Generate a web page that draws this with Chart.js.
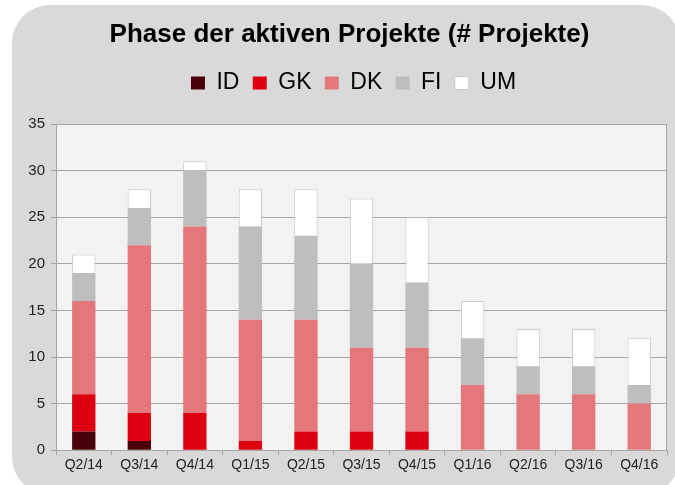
<!DOCTYPE html>
<html>
<head>
<meta charset="utf-8">
<script src="https://cdn.jsdelivr.net/npm/chart.js@4/dist/chart.umd.min.js"></script>
<style>
  html, body { margin: 0; padding: 0; background: #fff; }
  #wrap { position: relative; width: 675px; height: 485px; overflow: hidden; }
  #panel { position: absolute; left: 12px; top: 5px; width: 668px; height: 490px;
           background: #d9d9d9; border-radius: 38px; }
  #myChart { position: absolute; left: 0; top: 0; }
</style>
</head>
<body>
<div id="wrap">
  <div id="panel"></div>
  <canvas id="myChart" width="675" height="485"></canvas>
</div>
<script>
  var quarters = ["Q2/14", "Q3/14", "Q4/14", "Q1/15", "Q2/15", "Q3/15", "Q4/15", "Q1/16", "Q2/16", "Q3/16", "Q4/16"];
  var idVals = [2, 1, 0, 0, 0, 0, 0, 0, 0, 0, 0];
  var gkVals = [4, 3, 4, 1, 2, 2, 2, 0, 0, 0, 0];
  var dkVals = [10, 18, 20, 13, 12, 9, 9, 7, 6, 6, 5];
  var fiVals = [3, 4, 6, 10, 9, 9, 7, 5, 3, 3, 2];
  var umVals = [2, 2, 1, 4, 5, 7, 7, 4, 4, 4, 5];
  var yTicks = [0, 5, 10, 15, 20, 25, 30, 35];

  var font = "'Liberation Sans', Arial, sans-serif";

  // title/legend sit centred on the grey panel, not the canvas
  function shiftDraw(box, dx) {
    var d = box.draw;
    box.draw = function() {
      var c = this.ctx;
      c.save();
      c.translate(dx, 0);
      d.apply(this, arguments);
      c.restore();
    };
  }

  // plot background + right border, extra gap under legend
  var plotBg = {
    id: 'plotBg',
    afterInit: function(chart) {
      var lg = chart.legend;
      var f = lg.fit;
      lg.fit = function() { f.call(this); this.height += 19.5; };
      shiftDraw(lg, 20);
      shiftDraw(chart.titleBlock, 16);
    },
    beforeDraw: function(chart) {
      var a = chart.chartArea, c = chart.ctx;
      c.save();
      c.fillStyle = '#f2f2f2';
      c.fillRect(a.left, a.top, a.right - a.left, a.bottom - a.top);
      c.restore();
    },
    afterDatasetsDraw: function(chart) {
      var a = chart.chartArea, c = chart.ctx;
      c.save();
      c.strokeStyle = '#a6a6a6';
      c.lineWidth = 1;
      c.beginPath();
      c.moveTo(Math.round(a.right) - 0.5, a.top);
      c.lineTo(Math.round(a.right) - 0.5, a.bottom);
      c.stroke();
      c.restore();
    }
  };

  var ctx = document.getElementById("myChart").getContext('2d');
  var myChart = new Chart(ctx, {
    type: 'bar',
    data: {
      labels: quarters,
      datasets: [
        { label: 'ID', data: idVals, backgroundColor: "#4a0008", borderWidth: 0 },
        { label: 'GK', data: gkVals, backgroundColor: "#dd0011", borderWidth: 0 },
        { label: 'DK', data: dkVals, backgroundColor: "#e4777b", borderWidth: 0 },
        { label: 'FI', data: fiVals, backgroundColor: "#bebebe", borderWidth: 0 },
        { label: 'UM', data: umVals, backgroundColor: "#ffffff", borderColor: "#c9c9c9", borderWidth: 1 }
      ]
    },
    options: {
      responsive: false,
      animation: false,
      categoryPercentage: 1,
      barPercentage: 0.42,
      layout: { padding: { left: 0, right: 8, top: 0, bottom: 9 } },
      plugins: {
        title: {
          display: true,
          text: 'Phase der aktiven Projekte (# Projekte)',
          color: '#000',
          font: { family: font, size: 26, weight: 'bold', lineHeight: 1.2 },
          padding: { top: 19.5, bottom: 7.5 }
        },
        legend: {
          display: true,
          position: 'top',
          labels: {
            color: '#000',
            font: { family: font, size: 23 },
            boxWidth: 14,
            boxHeight: 13,
            padding: 13.3
          }
        },
        tooltip: { enabled: false }
      },
      scales: {
        x: {
          stacked: true,
          grid: { display: true, drawOnChartArea: false, drawTicks: true, tickLength: 5, color: '#a6a6a6', offset: true },
          border: { display: true, color: '#a6a6a6' },
          ticks: { color: '#222', font: { family: font, size: 14 }, padding: 2, maxRotation: 0, autoSkip: false }
        },
        y: {
          stacked: true,
          min: 0,
          max: 35,
          afterFit: function(scale) { scale.width = 56; },
          afterBuildTicks: function(scale) {
            scale.ticks = yTicks.map(function(v) { return { value: v }; });
          },
          grid: { color: '#a6a6a6', tickLength: 5, lineWidth: 1 },
          border: { display: true, color: '#a6a6a6' },
          ticks: { color: '#222', font: { family: font, size: 15 }, padding: 6 }
        }
      }
    },
    plugins: [plotBg]
  });
</script>
</body>
</html>
